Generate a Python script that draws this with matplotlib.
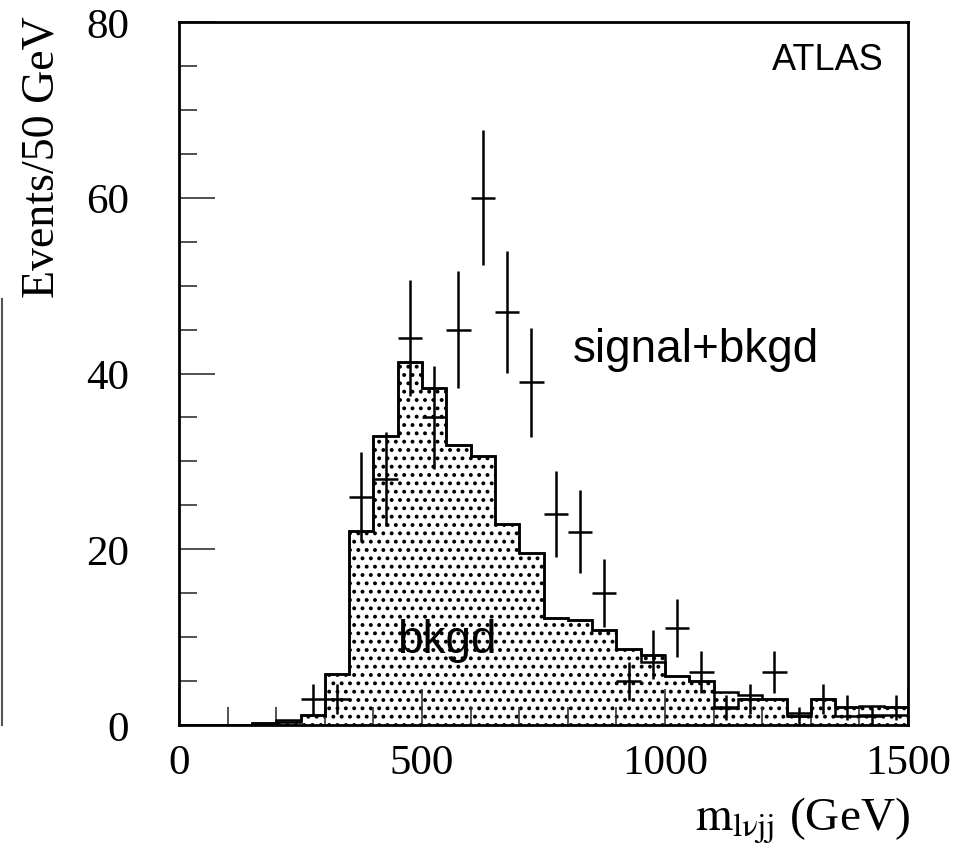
import numpy as np
import matplotlib
matplotlib.use("Agg")
import matplotlib.pyplot as plt
from matplotlib.lines import Line2D

# ---- data ----
bin_edges = list(range(0, 1550, 50))
bkgd_upper = [0, 0, 0, 0.2, 0.55, 1.1, 5.8, 22.1, 32.9, 41.3, 38.4, 31.9, 30.6, 22.9, 19.6,
              12.2, 12.0, 10.8, 8.6, 8.0, 5.6, 5.0, 3.8, 3.4, 3.0, 1.4, 3.0, 2.0, 2.2, 2.0]
bkgd_lower = [0, 0, 0, 0.2, 0.3, 1.1, 5.8, 22.1, 32.9, 41.3, 38.4, 31.9, 30.6, 22.9, 19.6,
              12.2, 12.0, 10.8, 8.6, 7.2, 5.6, 5.0, 1.9, 3.0, 3.0, 1.0, 3.0, 1.0, 1.1, 1.1]
data_x = [275, 325, 375, 425, 475, 525, 575, 625, 675, 725, 775, 825, 875, 925, 975,
          1025, 1075, 1125, 1175, 1225, 1275, 1325, 1375, 1425, 1475]
data_y = [3, 3, 26, 28, 44, 35, 45, 60, 47, 39, 24, 22, 15, 5, 8,
          11, 6, 2, 3, 6, 1, 3, 2, 1, 2]
data_err = [1.7, 1.7, 5.1, 5.3, 6.6, 5.9, 6.7, 7.7, 6.9, 6.2, 4.9, 4.7, 3.9, 2.2, 2.8,
            3.3, 2.4, 1.4, 1.7, 2.4, 1.0, 1.7, 1.4, 1.0, 1.4]
bin_half = 25
x_major = [0, 500, 1000, 1500]
y_major = [0, 20, 40, 60, 80]

plt.rcParams['hatch.linewidth'] = 1.6
plt.rcParams['mathtext.fontset'] = 'stix'
serif = ['Liberation Serif', 'DejaVu Serif']
sans = ['Liberation Sans', 'DejaVu Sans']

fig = plt.figure(figsize=(9.63, 8.53), dpi=100)
ax = fig.add_axes([179/963, 1-726/853, 729/963, 703/853])

ax.stairs(bkgd_upper, bin_edges, fill=True, facecolor='white', edgecolor='black',
          hatch='..', linewidth=0, zorder=1)
ax.stairs(bkgd_upper, bin_edges, color='black', linewidth=1.8, zorder=2)
ax.stairs(bkgd_lower, bin_edges, color='black', linewidth=1.8, zorder=2)

ax.errorbar(data_x, data_y, yerr=data_err, xerr=bin_half, fmt='none',
            ecolor='black', elinewidth=1.8, capsize=0, zorder=3)

ax.set_xlim(0, 1500)
ax.set_ylim(0, 80)
ax.set_xticks(x_major)
ax.set_yticks(y_major)
ax.set_xticks(np.arange(0, 1501, 100), minor=True)
ax.set_yticks(np.arange(0, 81, 5), minor=True)
ax.tick_params(which='major', direction='in', length=26, width=1.2, color='#333333')
ax.tick_params(which='minor', direction='in', length=13, width=1.2, color='#333333')
ax.tick_params(axis='y', which='major', pad=36)
ax.tick_params(axis='x', which='major', pad=13)
for lab in ax.get_xticklabels() + ax.get_yticklabels():
    lab.set_family(serif)
    lab.set_fontsize(31)
for sp in ax.spines.values():
    sp.set_linewidth(2.0)
    sp.set_zorder(5)

ax.text(0.966, 0.972, 'ATLAS', transform=ax.transAxes, ha='right', va='top',
        fontsize=26, family=sans)
ax.text(1064, 42.8, 'signal+bkgd', ha='center', va='center', fontsize=33, family=sans)
ax.text(551, 9.7, 'bkgd', ha='center', va='center', fontsize=33, family=sans)

fig.text(42/963, 1-16/853, 'Events/50 GeV', rotation=90, ha='center', va='top',
         fontsize=33, family=serif)
fig.text(910/963, 1-830/853, r'$\mathrm{m_{l\nu jj}}$ (GeV)', ha='right', va='baseline',
         fontsize=34, family=serif)

fig.add_artist(Line2D([2/963, 2/963], [1-300/853, 1-726/853], color='#555555', lw=1.5))

fig.savefig('out.png', dpi=100)
